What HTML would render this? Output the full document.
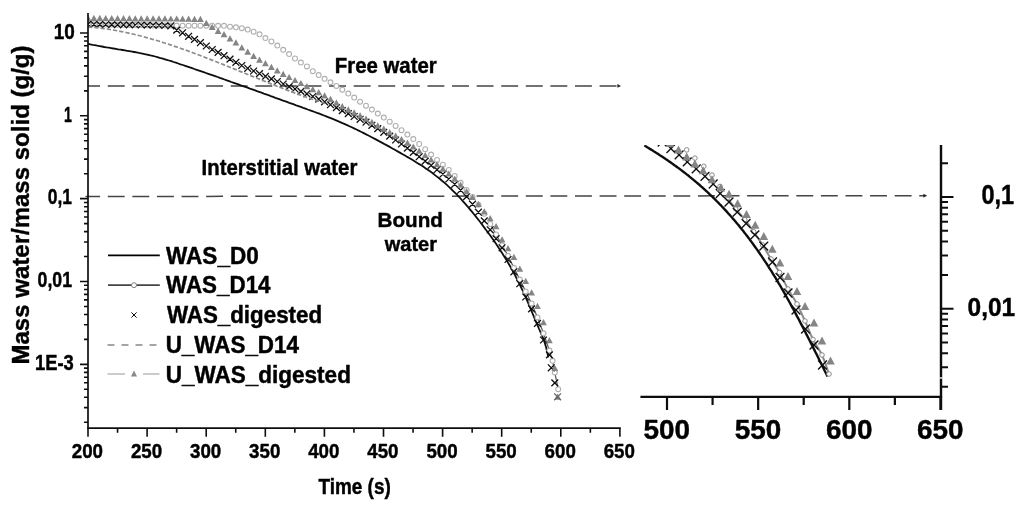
<!DOCTYPE html>
<html><head><meta charset="utf-8"><title>Drying curves</title>
<style>
html,body{margin:0;padding:0;background:#fff;}
body{width:1024px;height:507px;overflow:hidden;font-family:"Liberation Sans",sans-serif;}
svg{display:block;}
</style></head><body>
<svg width="1024" height="507" viewBox="0 0 1024 507">
<rect width="1024" height="507" fill="#fff"/>
<defs><filter id="soft" x="0" y="0" width="1024" height="507" filterUnits="userSpaceOnUse"><feGaussianBlur stdDeviation="0.45"/></filter></defs>
<g filter="url(#soft)" font-family="Liberation Sans, sans-serif" font-weight="bold" fill="#000">
<path d="M88,85.9 H618" stroke="#444" stroke-width="1.5" stroke-dasharray="16.9 7.69" stroke-dashoffset="4.8" fill="none"/>
<path d="M85.5,196.5 L924,195.65" stroke="#444" stroke-width="1.5" stroke-dasharray="16.9 7.69" stroke-dashoffset="2.3" fill="none"/>
<path d="M617.4,84 L621,85.9 L617.4,87.8Z" fill="#222"/>
<path d="M923.4,193.8 L927.2,195.65 L923.4,197.5Z" fill="#222"/>
<clipPath id="mc"><rect x="88" y="10" width="540" height="418"/></clipPath>
<g clip-path="url(#mc)">
<path d="M88.0,43.7 L90.3,44.3 L92.6,44.8 L94.9,45.2 L97.3,45.7 L99.6,46.1 L101.9,46.5 L104.2,47.0 L106.5,47.4 L108.8,47.7 L111.1,48.1 L113.4,48.5 L115.8,48.9 L118.1,49.3 L120.4,49.6 L122.7,50.0 L125.0,50.4 L127.3,50.8 L129.6,51.2 L132.0,51.6 L134.3,52.0 L136.6,52.4 L138.9,52.9 L141.2,53.3 L143.5,53.8 L145.8,54.3 L148.2,54.8 L150.5,55.4 L152.8,55.9 L155.1,56.5 L157.4,57.1 L159.7,57.8 L162.0,58.4 L164.3,59.1 L166.7,59.8 L169.0,60.5 L171.3,61.2 L173.6,62.0 L175.9,62.7 L178.2,63.5 L180.5,64.3 L182.9,65.0 L185.2,65.8 L187.5,66.6 L189.8,67.4 L192.1,68.2 L194.4,69.0 L196.7,69.8 L199.1,70.6 L201.4,71.4 L203.7,72.2 L206.0,73.0 L208.3,73.8 L210.6,74.6 L212.9,75.4 L215.2,76.2 L217.6,77.0 L219.9,77.9 L222.2,78.7 L224.5,79.5 L226.8,80.3 L229.1,81.1 L231.4,82.0 L233.8,82.8 L236.1,83.6 L238.4,84.4 L240.7,85.3 L243.0,86.1 L245.3,86.9 L247.6,87.7 L249.9,88.6 L252.3,89.4 L254.6,90.2 L256.9,91.1 L259.2,91.9 L261.5,92.7 L263.8,93.6 L266.1,94.4 L268.5,95.2 L270.8,96.1 L273.1,96.9 L275.4,97.8 L277.7,98.6 L280.0,99.4 L282.3,100.3 L284.7,101.1 L287.0,101.9 L289.3,102.8 L291.6,103.6 L293.9,104.4 L296.2,105.3 L298.5,106.1 L300.8,106.9 L303.2,107.8 L305.5,108.6 L307.8,109.5 L310.1,110.3 L312.4,111.1 L314.7,112.0 L317.0,112.9 L319.4,113.7 L321.7,114.6 L324.0,115.5 L326.3,116.4 L328.6,117.3 L330.9,118.2 L333.2,119.1 L335.6,120.1 L337.9,121.1 L340.2,122.1 L342.5,123.1 L344.8,124.1 L347.1,125.1 L349.4,126.2 L351.7,127.3 L354.1,128.4 L356.4,129.5 L358.7,130.6 L361.0,131.8 L363.3,132.9 L365.6,134.1 L367.9,135.3 L370.3,136.5 L372.6,137.7 L374.9,138.9 L377.2,140.1 L379.5,141.4 L381.8,142.6 L384.1,143.9 L386.5,145.1 L388.8,146.4 L391.1,147.7 L393.4,149.0 L395.7,150.3 L398.0,151.6 L400.3,152.9 L402.6,154.2 L405.0,155.5 L407.3,156.9 L409.6,158.2 L411.9,159.6 L414.2,161.0 L416.5,162.4 L418.8,163.9 L421.2,165.3 L423.5,166.8 L425.8,168.4 L428.1,170.0 L430.4,171.6 L432.7,173.3 L435.0,175.1 L437.3,176.9 L439.7,178.7 L442.0,180.7 L444.3,182.6 L446.6,184.7 L448.9,186.8 L451.2,189.0 L453.5,191.3 L455.9,193.6 L458.2,196.1 L460.5,198.5 L462.8,201.1 L465.1,203.7 L467.4,206.3 L469.7,209.1 L472.1,211.9 L474.4,214.7 L476.7,217.6 L479.0,220.5 L481.3,223.5 L483.6,226.6 L485.9,229.7 L488.2,232.8 L490.6,236.0 L492.9,239.3 L495.2,242.6 L497.5,246.0 L499.8,249.5 L502.1,253.0 L504.4,256.7 L506.8,260.5 L509.1,264.5 L511.4,268.5 L513.7,272.7 L516.0,277.1 L518.3,281.7 L520.6,286.4 L523.0,291.3 L525.3,296.4 L527.6,301.7 L529.9,307.1 L532.2,312.6 L534.5,318.1 L536.8,323.6 L539.1,329.0 L541.5,334.3 L543.8,339.9 L546.1,347.2 L548.4,357.4" stroke="#111" stroke-width="1.8" fill="none"/>
<path d="M490.2,224.0 L496.1,234.5 L502.1,245.3 L508.0,255.8 L513.9,267.8 L519.8,279.6 L525.7,291.4 L531.6,303.4 L537.5,317.4 L543.5,333.3 L549.4,350.6 L552.6,360.8 L554.8,372.6 L558.2,389.2" stroke="#555" stroke-width="1.2" fill="none"/>
<circle cx="88.0" cy="24.2" r="2.45" fill="#fff" stroke="#b0b0b0" stroke-width="1.1"/>
<circle cx="93.9" cy="24.3" r="2.45" fill="#fff" stroke="#b0b0b0" stroke-width="1.1"/>
<circle cx="99.8" cy="24.4" r="2.45" fill="#fff" stroke="#b0b0b0" stroke-width="1.1"/>
<circle cx="105.7" cy="24.5" r="2.45" fill="#fff" stroke="#b0b0b0" stroke-width="1.1"/>
<circle cx="111.7" cy="24.6" r="2.45" fill="#fff" stroke="#b0b0b0" stroke-width="1.1"/>
<circle cx="117.6" cy="24.7" r="2.45" fill="#fff" stroke="#b0b0b0" stroke-width="1.1"/>
<circle cx="123.5" cy="24.8" r="2.45" fill="#fff" stroke="#b0b0b0" stroke-width="1.1"/>
<circle cx="129.4" cy="24.9" r="2.45" fill="#fff" stroke="#b0b0b0" stroke-width="1.1"/>
<circle cx="135.3" cy="25.0" r="2.45" fill="#fff" stroke="#b0b0b0" stroke-width="1.1"/>
<circle cx="141.2" cy="25.1" r="2.45" fill="#fff" stroke="#b0b0b0" stroke-width="1.1"/>
<circle cx="147.2" cy="25.2" r="2.45" fill="#fff" stroke="#b0b0b0" stroke-width="1.1"/>
<circle cx="153.1" cy="25.4" r="2.45" fill="#fff" stroke="#b0b0b0" stroke-width="1.1"/>
<circle cx="159.0" cy="25.5" r="2.45" fill="#fff" stroke="#b0b0b0" stroke-width="1.1"/>
<circle cx="164.9" cy="25.6" r="2.45" fill="#fff" stroke="#b0b0b0" stroke-width="1.1"/>
<circle cx="170.8" cy="25.6" r="2.45" fill="#fff" stroke="#b0b0b0" stroke-width="1.1"/>
<circle cx="176.7" cy="25.6" r="2.45" fill="#fff" stroke="#b0b0b0" stroke-width="1.1"/>
<circle cx="182.6" cy="25.7" r="2.45" fill="#fff" stroke="#b0b0b0" stroke-width="1.1"/>
<circle cx="188.6" cy="25.7" r="2.45" fill="#fff" stroke="#b0b0b0" stroke-width="1.1"/>
<circle cx="194.5" cy="25.7" r="2.45" fill="#fff" stroke="#b0b0b0" stroke-width="1.1"/>
<circle cx="200.4" cy="25.7" r="2.45" fill="#fff" stroke="#b0b0b0" stroke-width="1.1"/>
<circle cx="206.3" cy="25.7" r="2.45" fill="#fff" stroke="#b0b0b0" stroke-width="1.1"/>
<circle cx="212.2" cy="25.7" r="2.45" fill="#fff" stroke="#b0b0b0" stroke-width="1.1"/>
<circle cx="218.1" cy="25.8" r="2.45" fill="#fff" stroke="#b0b0b0" stroke-width="1.1"/>
<circle cx="224.0" cy="25.8" r="2.45" fill="#fff" stroke="#b0b0b0" stroke-width="1.1"/>
<circle cx="230.0" cy="26.7" r="2.45" fill="#fff" stroke="#b0b0b0" stroke-width="1.1"/>
<circle cx="235.9" cy="27.3" r="2.45" fill="#fff" stroke="#b0b0b0" stroke-width="1.1"/>
<circle cx="241.8" cy="28.2" r="2.45" fill="#fff" stroke="#b0b0b0" stroke-width="1.1"/>
<circle cx="247.7" cy="29.6" r="2.45" fill="#fff" stroke="#b0b0b0" stroke-width="1.1"/>
<circle cx="253.6" cy="31.7" r="2.45" fill="#fff" stroke="#b0b0b0" stroke-width="1.1"/>
<circle cx="259.5" cy="34.3" r="2.45" fill="#fff" stroke="#b0b0b0" stroke-width="1.1"/>
<circle cx="265.4" cy="38.1" r="2.45" fill="#fff" stroke="#b0b0b0" stroke-width="1.1"/>
<circle cx="271.4" cy="41.4" r="2.45" fill="#fff" stroke="#b0b0b0" stroke-width="1.1"/>
<circle cx="277.3" cy="45.6" r="2.45" fill="#fff" stroke="#b0b0b0" stroke-width="1.1"/>
<circle cx="283.2" cy="49.8" r="2.45" fill="#fff" stroke="#b0b0b0" stroke-width="1.1"/>
<circle cx="289.1" cy="54.1" r="2.45" fill="#fff" stroke="#b0b0b0" stroke-width="1.1"/>
<circle cx="295.0" cy="58.5" r="2.45" fill="#fff" stroke="#b0b0b0" stroke-width="1.1"/>
<circle cx="300.9" cy="62.6" r="2.45" fill="#fff" stroke="#b0b0b0" stroke-width="1.1"/>
<circle cx="306.9" cy="66.4" r="2.45" fill="#fff" stroke="#b0b0b0" stroke-width="1.1"/>
<circle cx="312.8" cy="71.2" r="2.45" fill="#fff" stroke="#b0b0b0" stroke-width="1.1"/>
<circle cx="318.7" cy="75.1" r="2.45" fill="#fff" stroke="#b0b0b0" stroke-width="1.1"/>
<circle cx="324.6" cy="78.8" r="2.45" fill="#fff" stroke="#b0b0b0" stroke-width="1.1"/>
<circle cx="330.5" cy="82.3" r="2.45" fill="#fff" stroke="#b0b0b0" stroke-width="1.1"/>
<circle cx="336.4" cy="85.9" r="2.45" fill="#fff" stroke="#b0b0b0" stroke-width="1.1"/>
<circle cx="342.3" cy="89.7" r="2.45" fill="#fff" stroke="#b0b0b0" stroke-width="1.1"/>
<circle cx="348.3" cy="93.6" r="2.45" fill="#fff" stroke="#b0b0b0" stroke-width="1.1"/>
<circle cx="354.2" cy="97.6" r="2.45" fill="#fff" stroke="#b0b0b0" stroke-width="1.1"/>
<circle cx="360.1" cy="101.7" r="2.45" fill="#fff" stroke="#b0b0b0" stroke-width="1.1"/>
<circle cx="366.0" cy="105.7" r="2.45" fill="#fff" stroke="#b0b0b0" stroke-width="1.1"/>
<circle cx="371.9" cy="109.6" r="2.45" fill="#fff" stroke="#b0b0b0" stroke-width="1.1"/>
<circle cx="377.8" cy="113.6" r="2.45" fill="#fff" stroke="#b0b0b0" stroke-width="1.1"/>
<circle cx="383.8" cy="117.6" r="2.45" fill="#fff" stroke="#b0b0b0" stroke-width="1.1"/>
<circle cx="389.7" cy="121.7" r="2.45" fill="#fff" stroke="#b0b0b0" stroke-width="1.1"/>
<circle cx="395.6" cy="125.9" r="2.45" fill="#fff" stroke="#b0b0b0" stroke-width="1.1"/>
<circle cx="401.5" cy="130.2" r="2.45" fill="#fff" stroke="#b0b0b0" stroke-width="1.1"/>
<circle cx="407.4" cy="134.6" r="2.45" fill="#fff" stroke="#b0b0b0" stroke-width="1.1"/>
<circle cx="413.3" cy="139.1" r="2.45" fill="#fff" stroke="#b0b0b0" stroke-width="1.1"/>
<circle cx="419.2" cy="144.0" r="2.45" fill="#fff" stroke="#b0b0b0" stroke-width="1.1"/>
<circle cx="425.2" cy="149.2" r="2.45" fill="#fff" stroke="#b0b0b0" stroke-width="1.1"/>
<circle cx="431.1" cy="154.6" r="2.45" fill="#fff" stroke="#b0b0b0" stroke-width="1.1"/>
<circle cx="437.0" cy="159.9" r="2.45" fill="#fff" stroke="#b0b0b0" stroke-width="1.1"/>
<circle cx="442.9" cy="164.7" r="2.45" fill="#fff" stroke="#b0b0b0" stroke-width="1.1"/>
<circle cx="448.8" cy="169.9" r="2.45" fill="#fff" stroke="#b0b0b0" stroke-width="1.1"/>
<circle cx="454.7" cy="175.9" r="2.45" fill="#fff" stroke="#b0b0b0" stroke-width="1.1"/>
<circle cx="460.6" cy="182.8" r="2.45" fill="#fff" stroke="#b0b0b0" stroke-width="1.1"/>
<circle cx="466.6" cy="189.9" r="2.45" fill="#fff" stroke="#b0b0b0" stroke-width="1.1"/>
<circle cx="472.5" cy="197.0" r="2.45" fill="#fff" stroke="#b0b0b0" stroke-width="1.1"/>
<circle cx="478.4" cy="204.7" r="2.45" fill="#fff" stroke="#b0b0b0" stroke-width="1.1"/>
<circle cx="484.3" cy="213.7" r="2.45" fill="#fff" stroke="#b0b0b0" stroke-width="1.1"/>
<circle cx="490.2" cy="224.0" r="2.45" fill="#fff" stroke="#b0b0b0" stroke-width="1.1"/>
<circle cx="496.1" cy="234.5" r="2.45" fill="#fff" stroke="#b0b0b0" stroke-width="1.1"/>
<circle cx="502.1" cy="245.3" r="2.45" fill="#fff" stroke="#b0b0b0" stroke-width="1.1"/>
<circle cx="508.0" cy="255.8" r="2.45" fill="#fff" stroke="#b0b0b0" stroke-width="1.1"/>
<circle cx="513.9" cy="267.8" r="2.45" fill="#fff" stroke="#b0b0b0" stroke-width="1.1"/>
<circle cx="519.8" cy="279.6" r="2.45" fill="#fff" stroke="#b0b0b0" stroke-width="1.1"/>
<circle cx="525.7" cy="291.4" r="2.45" fill="#fff" stroke="#b0b0b0" stroke-width="1.1"/>
<circle cx="531.6" cy="303.4" r="2.45" fill="#fff" stroke="#b0b0b0" stroke-width="1.1"/>
<circle cx="537.5" cy="317.4" r="2.45" fill="#fff" stroke="#b0b0b0" stroke-width="1.1"/>
<circle cx="543.5" cy="333.3" r="2.45" fill="#fff" stroke="#b0b0b0" stroke-width="1.1"/>
<circle cx="549.4" cy="350.6" r="2.45" fill="#fff" stroke="#b0b0b0" stroke-width="1.1"/>
<circle cx="552.6" cy="360.8" r="2.45" fill="#fff" stroke="#b0b0b0" stroke-width="1.1"/>
<circle cx="554.8" cy="372.6" r="2.45" fill="#fff" stroke="#b0b0b0" stroke-width="1.1"/>
<circle cx="558.2" cy="389.2" r="2.45" fill="#fff" stroke="#b0b0b0" stroke-width="1.1"/>
<path d="M84.6,20.8L91.4,27.6M84.6,27.6L91.4,20.8 M90.5,20.9L97.3,27.7M90.5,27.7L97.3,20.9 M96.4,21.0L103.2,27.8M96.4,27.8L103.2,21.0 M102.3,21.1L109.1,27.9M102.3,27.9L109.1,21.1 M108.3,21.2L115.1,28.0M108.3,28.0L115.1,21.2 M114.2,21.3L121.0,28.1M114.2,28.1L121.0,21.3 M120.1,21.4L126.9,28.2M120.1,28.2L126.9,21.4 M126.0,21.5L132.8,28.3M126.0,28.3L132.8,21.5 M131.9,21.6L138.7,28.4M131.9,28.4L138.7,21.6 M137.8,21.6L144.6,28.4M137.8,28.4L144.6,21.6 M143.8,21.7L150.6,28.5M143.8,28.5L150.6,21.7 M149.7,21.8L156.5,28.6M149.7,28.6L156.5,21.8 M155.6,21.9L162.4,28.7M155.6,28.7L162.4,21.9 M161.5,22.1L168.3,28.9M161.5,28.9L168.3,22.1 M167.4,22.4L174.2,29.2M167.4,29.2L174.2,22.4 M173.3,26.7L180.1,33.5M173.3,33.5L180.1,26.7 M179.2,29.4L186.0,36.2M179.2,36.2L186.0,29.4 M185.2,32.9L192.0,39.7M185.2,39.7L192.0,32.9 M191.1,36.0L197.9,42.8M191.1,42.8L197.9,36.0 M197.0,39.3L203.8,46.1M197.0,46.1L203.8,39.3 M202.9,42.6L209.7,49.4M202.9,49.4L209.7,42.6 M208.8,46.1L215.6,52.9M208.8,52.9L215.6,46.1 M214.7,49.0L221.5,55.8M214.7,55.8L221.5,49.0 M220.6,52.3L227.4,59.1M220.6,59.1L227.4,52.3 M226.6,55.7L233.4,62.5M226.6,62.5L233.4,55.7 M232.5,58.9L239.3,65.7M232.5,65.7L239.3,58.9 M238.4,62.1L245.2,68.9M238.4,68.9L245.2,62.1 M244.3,64.9L251.1,71.7M244.3,71.7L251.1,64.9 M250.2,67.6L257.0,74.4M250.2,74.4L257.0,67.6 M256.1,70.2L262.9,77.0M256.1,77.0L262.9,70.2 M262.1,72.9L268.8,79.7M262.1,79.7L268.8,72.9 M268.0,75.5L274.8,82.3M268.0,82.3L274.8,75.5 M273.9,78.1L280.7,84.9M273.9,84.9L280.7,78.1 M279.8,80.6L286.6,87.4M279.8,87.4L286.6,80.6 M285.7,83.2L292.5,90.0M285.7,90.0L292.5,83.2 M291.6,85.6L298.4,92.4M291.6,92.4L298.4,85.6 M297.5,88.0L304.3,94.8M297.5,94.8L304.3,88.0 M303.5,90.5L310.3,97.3M303.5,97.3L310.3,90.5 M309.4,93.1L316.2,99.9M309.4,99.9L316.2,93.1 M315.3,95.7L322.1,102.5M315.3,102.5L322.1,95.7 M321.2,98.4L328.0,105.2M321.2,105.2L328.0,98.4 M327.1,101.3L333.9,108.1M327.1,108.1L333.9,101.3 M333.0,104.2L339.8,111.0M333.0,111.0L339.8,104.2 M338.9,107.2L345.7,114.0M338.9,114.0L345.7,107.2 M344.9,110.2L351.7,117.0M344.9,117.0L351.7,110.2 M350.8,113.1L357.6,119.9M350.8,119.9L357.6,113.1 M356.7,115.9L363.5,122.7M356.7,122.7L363.5,115.9 M362.6,118.8L369.4,125.6M362.6,125.6L369.4,118.8 M368.5,121.9L375.3,128.7M368.5,128.7L375.3,121.9 M374.4,125.2L381.2,132.0M374.4,132.0L381.2,125.2 M380.4,128.9L387.1,135.7M380.4,135.7L387.1,128.9 M386.3,132.7L393.1,139.5M386.3,139.5L393.1,132.7 M392.2,136.6L399.0,143.4M392.2,143.4L399.0,136.6 M398.1,140.6L404.9,147.4M398.1,147.4L404.9,140.6 M404.0,144.7L410.8,151.5M404.0,151.5L410.8,144.7 M409.9,149.0L416.7,155.8M409.9,155.8L416.7,149.0 M415.8,153.3L422.6,160.1M415.8,160.1L422.6,153.3 M421.8,157.7L428.6,164.5M421.8,164.5L428.6,157.7 M427.7,162.0L434.5,168.8M427.7,168.8L434.5,162.0 M433.6,166.3L440.4,173.1M433.6,173.1L440.4,166.3 M439.5,170.8L446.3,177.6M439.5,177.6L446.3,170.8 M445.4,175.6L452.2,182.4M445.4,182.4L452.2,175.6 M451.3,180.9L458.1,187.7M451.3,187.7L458.1,180.9 M457.2,186.8L464.0,193.6M457.2,193.6L464.0,186.8 M463.2,193.2L470.0,200.0M463.2,200.0L470.0,193.2 M469.1,200.7L475.9,207.5M469.1,207.5L475.9,200.7 M475.0,208.8L481.8,215.6M475.0,215.6L481.8,208.8 M480.9,217.5L487.7,224.3M480.9,224.3L487.7,217.5 M486.8,226.4L493.6,233.2M486.8,233.2L493.6,226.4 M492.7,235.3L499.5,242.1M492.7,242.1L499.5,235.3 M498.7,244.4L505.4,251.2M498.7,251.2L505.4,244.4 M504.6,256.1L511.4,262.9M504.6,262.9L511.4,256.1 M510.5,268.4L517.3,275.2M510.5,275.2L517.3,268.4 M516.4,280.3L523.2,287.1M516.4,287.1L523.2,280.3 M522.3,293.6L529.1,300.4M522.3,300.4L529.1,293.6 M528.2,305.5L535.0,312.3M528.2,312.3L535.0,305.5 M534.1,320.0L540.9,326.8M534.1,326.8L540.9,320.0 M540.1,336.6L546.9,343.4M540.1,343.4L546.9,336.6 M546.0,351.5L552.8,358.3M546.0,358.3L552.8,351.5 M547.9,364.4L554.7,371.2M547.9,371.2L554.7,364.4 M551.4,379.5L558.2,386.3M551.4,386.3L558.2,379.5" stroke="#111" stroke-width="1.3" fill="none"/>
<path d="M88.0,26.9 L90.0,27.1 L92.0,27.3 L94.0,27.5 L96.0,27.7 L98.0,27.9 L99.9,28.1 L101.9,28.4 L103.9,28.6 L105.9,28.9 L107.9,29.2 L109.9,29.5 L111.9,29.8 L113.9,30.2 L115.9,30.5 L117.9,30.9 L119.9,31.3 L121.9,31.7 L123.8,32.1 L125.8,32.5 L127.8,32.9 L129.8,33.4 L131.8,33.8 L133.8,34.3 L135.8,34.8 L137.8,35.3 L139.8,35.8 L141.8,36.3 L143.8,36.8 L145.8,37.4 L147.7,37.9 L149.7,38.5 L151.7,39.1 L153.7,39.6 L155.7,40.2 L157.7,40.8 L159.7,41.4 L161.7,42.1 L163.7,42.7 L165.7,43.3 L167.7,44.0 L169.7,44.6 L171.6,45.3 L173.6,46.0 L175.6,46.6 L177.6,47.3 L179.6,48.0 L181.6,48.7 L183.6,49.4 L185.6,50.1 L187.6,50.8 L189.6,51.6 L191.6,52.3 L193.6,53.0 L195.5,53.8 L197.5,54.5 L199.5,55.3 L201.5,56.0 L203.5,56.8 L205.5,57.6 L207.5,58.3 L209.5,59.1 L211.5,59.9 L213.5,60.7 L215.5,61.5 L217.5,62.2 L219.4,63.0 L221.4,63.8 L223.4,64.6 L225.4,65.4 L227.4,66.2 L229.4,67.0 L231.4,67.8 L233.4,68.6 L235.4,69.4 L237.4,70.2 L239.4,71.1 L241.4,71.9 L243.3,72.7 L245.3,73.5 L247.3,74.3 L249.3,75.1 L251.3,75.9 L253.3,76.7 L255.3,77.5 L257.3,78.3 L259.3,79.1 L261.3,79.9 L263.3,80.7 L265.3,81.5 L267.2,82.3 L269.2,83.1 L271.2,83.9 L273.2,84.7 L275.2,85.5 L277.2,86.3 L279.2,87.0 L281.2,87.8 L283.2,88.6 L285.2,89.4 L287.2,90.1 L289.2,90.9 L291.1,91.6 L293.1,92.4 L295.1,93.1 L297.1,93.9 L299.1,94.6 L301.1,95.3 L303.1,96.0 L305.1,96.7 L307.1,97.4 L309.1,98.1 L311.1,98.8 L313.1,99.5 L315.0,100.2 L317.0,100.9 L319.0,101.5 L321.0,102.2 L323.0,102.8 L325.0,103.5" stroke="#8c8c8c" stroke-width="1.7" stroke-dasharray="4.3 2" fill="none"/>
<path d="M84.6,20.9 L91.4,20.9 L88.0,14.7Z M90.5,21.0 L97.3,21.0 L93.9,14.8Z M96.4,21.0 L103.2,21.0 L99.8,14.8Z M102.3,21.1 L109.1,21.1 L105.7,14.9Z M108.3,21.1 L115.1,21.1 L111.7,14.9Z M114.2,21.2 L121.0,21.2 L117.6,15.0Z M120.1,21.2 L126.9,21.2 L123.5,15.0Z M126.0,21.3 L132.8,21.3 L129.4,15.1Z M131.9,21.4 L138.7,21.4 L135.3,15.2Z M137.8,21.4 L144.6,21.4 L141.2,15.2Z M143.8,21.5 L150.6,21.5 L147.2,15.3Z M149.7,21.5 L156.5,21.5 L153.1,15.3Z M155.6,21.5 L162.4,21.5 L159.0,15.3Z M161.5,21.5 L168.3,21.5 L164.9,15.3Z M167.4,21.6 L174.2,21.6 L170.8,15.4Z M173.3,21.6 L180.1,21.6 L176.7,15.4Z M179.2,21.7 L186.0,21.7 L182.6,15.5Z M185.2,21.8 L192.0,21.8 L188.6,15.6Z M191.1,21.9 L197.9,21.9 L194.5,15.7Z M197.0,22.0 L203.8,22.0 L200.4,15.8Z M202.9,26.0 L209.7,26.0 L206.3,19.8Z M208.8,29.9 L215.6,29.9 L212.2,23.7Z M214.7,34.0 L221.5,34.0 L218.1,27.8Z M220.6,37.3 L227.4,37.3 L224.0,31.1Z M226.6,41.5 L233.4,41.5 L230.0,35.3Z M232.5,45.4 L239.3,45.4 L235.9,39.2Z M238.4,50.4 L245.2,50.4 L241.8,44.2Z M244.3,54.8 L251.1,54.8 L247.7,48.6Z M250.2,58.9 L257.0,58.9 L253.6,52.7Z M256.1,62.8 L262.9,62.8 L259.5,56.6Z M262.1,66.2 L268.8,66.2 L265.4,60.0Z M268.0,69.9 L274.8,69.9 L271.4,63.7Z M273.9,73.4 L280.7,73.4 L277.3,67.2Z M279.8,77.0 L286.6,77.0 L283.2,70.8Z M285.7,80.1 L292.5,80.1 L289.1,73.9Z M291.6,83.1 L298.4,83.1 L295.0,76.9Z M297.5,86.1 L304.3,86.1 L300.9,79.9Z M303.5,89.2 L310.3,89.2 L306.9,83.0Z M309.4,92.2 L316.2,92.2 L312.8,86.0Z M315.3,95.3 L322.1,95.3 L318.7,89.1Z M321.2,98.5 L328.0,98.5 L324.6,92.3Z M327.1,101.9 L333.9,101.9 L330.5,95.7Z M333.0,105.6 L339.8,105.6 L336.4,99.4Z M338.9,109.3 L345.7,109.3 L342.3,103.1Z M344.9,112.5 L351.7,112.5 L348.3,106.3Z M350.8,115.5 L357.6,115.5 L354.2,109.3Z M356.7,118.5 L363.5,118.5 L360.1,112.3Z M362.6,121.8 L369.4,121.8 L366.0,115.6Z M368.5,125.0 L375.3,125.0 L371.9,118.8Z M374.4,128.4 L381.2,128.4 L377.8,122.2Z M380.4,131.7 L387.1,131.7 L383.8,125.5Z M386.3,135.2 L393.1,135.2 L389.7,129.0Z M392.2,138.6 L399.0,138.6 L395.6,132.4Z M398.1,142.1 L404.9,142.1 L401.5,135.9Z M404.0,145.8 L410.8,145.8 L407.4,139.6Z M409.9,149.6 L416.7,149.6 L413.3,143.4Z M415.8,153.7 L422.6,153.7 L419.2,147.5Z M421.8,158.1 L428.6,158.1 L425.2,151.9Z M427.7,162.6 L434.5,162.6 L431.1,156.4Z M433.6,167.2 L440.4,167.2 L437.0,161.0Z M439.5,171.8 L446.3,171.8 L442.9,165.6Z M445.4,176.6 L452.2,176.6 L448.8,170.4Z M451.3,181.8 L458.1,181.8 L454.7,175.6Z M457.2,187.8 L464.0,187.8 L460.6,181.6Z M463.2,194.2 L470.0,194.2 L466.6,188.0Z M469.1,200.1 L475.9,200.1 L472.5,193.9Z M475.0,207.1 L481.8,207.1 L478.4,200.9Z M480.9,214.5 L487.7,214.5 L484.3,208.3Z M486.8,221.2 L493.6,221.2 L490.2,215.0Z M492.7,229.3 L499.5,229.3 L496.1,223.1Z M498.7,242.5 L505.4,242.5 L502.1,236.3Z M504.6,251.3 L511.4,251.3 L508.0,245.1Z M510.5,259.9 L517.3,259.9 L513.9,253.7Z M516.4,271.7 L523.2,271.7 L519.8,265.5Z M522.3,284.0 L529.1,284.0 L525.7,277.8Z M528.2,295.4 L535.0,295.4 L531.6,289.2Z M534.1,309.0 L540.9,309.0 L537.5,302.8Z M540.1,325.3 L546.9,325.3 L543.5,319.1Z M546.0,343.3 L552.8,343.3 L549.4,337.1Z M551.4,370.9 L558.2,370.9 L554.8,364.7Z M554.2,399.7 L561.0,399.7 L557.6,393.5Z" fill="#858585"/>
<path d="M554.2,393.4L561.0,400.2M554.2,400.2L561.0,393.4" stroke="#666" stroke-width="1.3" fill="none"/>
</g>
<path d="M88,13 V428.5" stroke="#111" stroke-width="1.7" fill="none"/>
<path d="M87.2,428.1 H620.8" stroke="#111" stroke-width="1.7" fill="none"/>
<path d="M80,32.95H88M80,115.80H88M84,90.86H88M84,76.27H88M84,65.92H88M84,57.89H88M84,51.33H88M84,45.78H88M84,40.98H88M84,36.74H88M80,198.65H88M84,173.71H88M84,159.12H88M84,148.77H88M84,140.74H88M84,134.18H88M84,128.63H88M84,123.83H88M84,119.59H88M80,281.50H88M84,256.56H88M84,241.97H88M84,231.62H88M84,223.59H88M84,217.03H88M84,211.48H88M84,206.68H88M84,202.44H88M80,364.35H88M84,339.41H88M84,324.82H88M84,314.47H88M84,306.44H88M84,299.88H88M84,294.33H88M84,289.53H88M84,285.29H88M84,422.26H88M84,407.67H88M84,397.32H88M84,389.29H88M84,382.73H88M84,377.18H88M84,372.38H88M84,368.14H88" stroke="#111" stroke-width="1.6" fill="none"/>
<path d="M88.00,428.3V436.8M117.55,428.3V432.8M147.10,428.3V436.8M176.65,428.3V432.8M206.20,428.3V436.8M235.75,428.3V432.8M265.30,428.3V436.8M294.85,428.3V432.8M324.40,428.3V436.8M353.95,428.3V432.8M383.50,428.3V436.8M413.05,428.3V432.8M442.60,428.3V436.8M472.15,428.3V432.8M501.70,428.3V436.8M531.25,428.3V432.8M560.80,428.3V436.8M590.35,428.3V432.8M619.90,428.3V436.8" stroke="#111" stroke-width="1.6" fill="none"/>
<text x="71.79" y="458.40" font-size="20.8" textLength="31.23" lengthAdjust="spacingAndGlyphs" stroke="#000" stroke-width="0.45" stroke-linejoin="round">200</text>
<text x="130.89" y="458.40" font-size="20.8" textLength="31.23" lengthAdjust="spacingAndGlyphs" stroke="#000" stroke-width="0.45" stroke-linejoin="round">250</text>
<text x="189.99" y="458.40" font-size="20.8" textLength="31.23" lengthAdjust="spacingAndGlyphs" stroke="#000" stroke-width="0.45" stroke-linejoin="round">300</text>
<text x="249.09" y="458.40" font-size="20.8" textLength="31.23" lengthAdjust="spacingAndGlyphs" stroke="#000" stroke-width="0.45" stroke-linejoin="round">350</text>
<text x="308.19" y="458.40" font-size="20.8" textLength="31.23" lengthAdjust="spacingAndGlyphs" stroke="#000" stroke-width="0.45" stroke-linejoin="round">400</text>
<text x="367.29" y="458.40" font-size="20.8" textLength="31.23" lengthAdjust="spacingAndGlyphs" stroke="#000" stroke-width="0.45" stroke-linejoin="round">450</text>
<text x="426.39" y="458.40" font-size="20.8" textLength="31.23" lengthAdjust="spacingAndGlyphs" stroke="#000" stroke-width="0.45" stroke-linejoin="round">500</text>
<text x="485.49" y="458.40" font-size="20.8" textLength="31.23" lengthAdjust="spacingAndGlyphs" stroke="#000" stroke-width="0.45" stroke-linejoin="round">550</text>
<text x="544.59" y="458.40" font-size="20.8" textLength="31.23" lengthAdjust="spacingAndGlyphs" stroke="#000" stroke-width="0.45" stroke-linejoin="round">600</text>
<text x="603.69" y="458.40" font-size="20.8" textLength="31.23" lengthAdjust="spacingAndGlyphs" stroke="#000" stroke-width="0.45" stroke-linejoin="round">650</text>
<text x="53.67" y="38.70" font-size="21.2" textLength="21.06" lengthAdjust="spacingAndGlyphs" stroke="#000" stroke-width="0.45" stroke-linejoin="round">10</text>
<text x="64.12" y="121.50" font-size="21.2" textLength="7.88" lengthAdjust="spacingAndGlyphs" stroke="#000" stroke-width="0.45" stroke-linejoin="round">1</text>
<text x="47.77" y="204.40" font-size="21.2" textLength="24.24" lengthAdjust="spacingAndGlyphs" stroke="#000" stroke-width="0.45" stroke-linejoin="round">0,1</text>
<text x="37.59" y="287.10" font-size="21.2" textLength="34.45" lengthAdjust="spacingAndGlyphs" stroke="#000" stroke-width="0.45" stroke-linejoin="round">0,01</text>
<text x="35.09" y="370.00" font-size="21.2" textLength="38.74" lengthAdjust="spacingAndGlyphs" stroke="#000" stroke-width="0.45" stroke-linejoin="round">1E-3</text>
<text x="318.48" y="493.60" font-size="21.2" textLength="72.29" lengthAdjust="spacingAndGlyphs" stroke="#000" stroke-width="0.45" stroke-linejoin="round">Time (s)</text>
<text x="334.80" y="72.90" font-size="21.5" textLength="101.91" lengthAdjust="spacingAndGlyphs" stroke="#000" stroke-width="0.45" stroke-linejoin="round">Free water</text>
<text x="201.61" y="174.80" font-size="21.5" textLength="155.70" lengthAdjust="spacingAndGlyphs" stroke="#000" stroke-width="0.45" stroke-linejoin="round">Interstitial water</text>
<text x="377.58" y="226.50" font-size="21.0" textLength="65.33" lengthAdjust="spacingAndGlyphs" stroke="#000" stroke-width="0.45" stroke-linejoin="round">Bound</text>
<text x="384.79" y="251.10" font-size="21.0" textLength="52.21" lengthAdjust="spacingAndGlyphs" stroke="#000" stroke-width="0.45" stroke-linejoin="round">water</text>
<text transform="translate(28.9,205) rotate(-90)" font-size="23.8" text-anchor="middle" textLength="319" lengthAdjust="spacingAndGlyphs" stroke="#000" stroke-width="0.4" stroke-linejoin="round">Mass water/mass solid (g/g)</text>
<path d="M108,255.4H159.8" stroke="#000" stroke-width="1.9"/>
<path d="M108,285.2H159.8" stroke="#444" stroke-width="1.8"/>
<circle cx="134" cy="285.2" r="2.5" fill="#fff" stroke="#777" stroke-width="0.9"/>
<path d="M131.4,312.4L136.6,317.6M131.4,317.6L136.6,312.4" stroke="#111" stroke-width="1" fill="none"/>
<path d="M107.5,345H159.5" stroke="#888" stroke-width="1.5" stroke-dasharray="7 7"/>
<path d="M107.5,374H125M143,374H159.5" stroke="#bbb" stroke-width="1.3"/>
<path d="M131.0,376.6 L137.0,376.6 L134.0,370.4Z" fill="#888"/>
<text x="166.09" y="263.70" font-size="23.0" textLength="92.62" lengthAdjust="spacingAndGlyphs" stroke="#000" stroke-width="0.45" stroke-linejoin="round">WAS_D0</text>
<text x="166.10" y="293.30" font-size="23.0" textLength="104.41" lengthAdjust="spacingAndGlyphs" stroke="#000" stroke-width="0.45" stroke-linejoin="round">WAS_D14</text>
<text x="166.90" y="323.00" font-size="23.0" textLength="155.20" lengthAdjust="spacingAndGlyphs" stroke="#000" stroke-width="0.45" stroke-linejoin="round">WAS_digested</text>
<text x="165.70" y="353.20" font-size="23.0" textLength="133.30" lengthAdjust="spacingAndGlyphs" stroke="#000" stroke-width="0.45" stroke-linejoin="round">U_WAS_D14</text>
<text x="165.69" y="382.70" font-size="23.0" textLength="185.22" lengthAdjust="spacingAndGlyphs" stroke="#000" stroke-width="0.45" stroke-linejoin="round">U_WAS_digested</text>
<clipPath id="ic"><rect x="640" y="145" width="300" height="252"/></clipPath>
<g clip-path="url(#ic)">
<path d="M644.4,145.5 L645.3,146.0 L646.2,146.6 L647.2,147.2 L648.1,147.7 L649.0,148.3 L649.9,148.9 L650.8,149.4 L651.8,150.0 L652.7,150.6 L653.6,151.2 L654.5,151.7 L655.4,152.3 L656.4,152.9 L657.3,153.5 L658.2,154.1 L659.1,154.7 L660.0,155.3 L661.0,155.9 L661.9,156.5 L662.8,157.1 L663.7,157.7 L664.6,158.3 L665.6,159.0 L666.5,159.6 L667.4,160.2 L668.3,160.8 L669.2,161.5 L670.2,162.1 L671.1,162.8 L672.0,163.4 L672.9,164.1 L673.8,164.7 L674.8,165.4 L675.7,166.0 L676.6,166.7 L677.5,167.4 L678.4,168.1 L679.4,168.7 L680.3,169.4 L681.2,170.1 L682.1,170.8 L683.0,171.5 L684.0,172.2 L684.9,172.9 L685.8,173.7 L686.7,174.4 L687.6,175.1 L688.6,175.8 L689.5,176.6 L690.4,177.3 L691.3,178.1 L692.2,178.8 L693.2,179.6 L694.1,180.3 L695.0,181.1 L695.9,181.9 L696.8,182.7 L697.8,183.5 L698.7,184.2 L699.6,185.0 L700.5,185.8 L701.4,186.7 L702.4,187.5 L703.3,188.3 L704.2,189.1 L705.1,190.0 L706.0,190.8 L707.0,191.7 L707.9,192.5 L708.8,193.4 L709.7,194.3 L710.6,195.1 L711.6,196.0 L712.5,196.9 L713.4,197.8 L714.3,198.7 L715.2,199.6 L716.2,200.5 L717.1,201.5 L718.0,202.4 L718.9,203.3 L719.8,204.3 L720.8,205.2 L721.7,206.2 L722.6,207.2 L723.5,208.1 L724.4,209.1 L725.4,210.1 L726.3,211.1 L727.2,212.1 L728.1,213.2 L729.0,214.2 L730.0,215.2 L730.9,216.3 L731.8,217.3 L732.7,218.4 L733.6,219.4 L734.6,220.5 L735.5,221.6 L736.4,222.7 L737.3,223.8 L738.3,224.9 L739.2,226.0 L740.1,227.2 L741.0,228.3 L741.9,229.4 L742.9,230.6 L743.8,231.8 L744.7,232.9 L745.6,234.1 L746.5,235.3 L747.5,236.5 L748.4,237.7 L749.3,238.9 L750.2,240.2 L751.1,241.4 L752.1,242.7 L753.0,243.9 L753.9,245.2 L754.8,246.5 L755.7,247.8 L756.7,249.1 L757.6,250.4 L758.5,251.7 L759.4,253.0 L760.3,254.4 L761.3,255.7 L762.2,257.1 L763.1,258.4 L764.0,259.8 L764.9,261.2 L765.9,262.6 L766.8,264.0 L767.7,265.4 L768.6,266.9 L769.5,268.3 L770.5,269.8 L771.4,271.2 L772.3,272.7 L773.2,274.2 L774.1,275.7 L775.1,277.2 L776.0,278.7 L776.9,280.2 L777.8,281.7 L778.7,283.3 L779.7,284.9 L780.6,286.4 L781.5,288.0 L782.4,289.6 L783.3,291.2 L784.3,292.8 L785.2,294.4 L786.1,296.1 L787.0,297.7 L787.9,299.4 L788.9,301.0 L789.8,302.7 L790.7,304.4 L791.6,306.1 L792.5,307.8 L793.5,309.5 L794.4,311.2 L795.3,312.9 L796.2,314.6 L797.1,316.4 L798.1,318.1 L799.0,319.8 L799.9,321.6 L800.8,323.4 L801.7,325.1 L802.7,326.9 L803.6,328.7 L804.5,330.5 L805.4,332.3 L806.3,334.1 L807.3,335.9 L808.2,337.7 L809.1,339.5 L810.0,341.3 L810.9,343.1 L811.9,344.9 L812.8,346.8 L813.7,348.6 L814.6,350.4 L815.5,352.3 L816.5,354.1 L817.4,356.0 L818.3,357.8 L819.2,359.7 L820.1,361.5 L821.1,363.4 L822.0,365.2 L822.9,367.1 L823.8,368.9 L824.7,370.8 L825.7,372.7 L826.6,374.5 L827.5,376.4" stroke="#111" stroke-width="2.4" fill="none"/>
<path d="M727.1,198.2 C728.5,200.0 732.8,205.3 735.7,208.9 C738.7,212.5 741.8,215.9 744.8,219.7 C747.8,223.5 750.8,227.5 753.7,231.7 C756.7,235.9 759.6,240.3 762.5,244.9 C765.4,249.5 768.2,254.4 771.0,259.0 C773.8,263.6 776.7,267.5 779.5,272.5 C782.3,277.5 785.1,283.8 788.0,289.0 C790.9,294.2 794.2,298.7 797.0,304.0 C799.8,309.3 802.3,315.1 805.0,321.0 C807.7,326.9 810.2,333.8 813.0,339.5 C815.8,345.2 819.3,349.2 822.0,355.0 C824.7,360.8 827.8,370.8 829.0,374.0" stroke="#8c8c8c" stroke-width="2" fill="none"/>
<circle cx="677.5" cy="142.0" r="2.3" fill="#fff" stroke="#888" stroke-width="1"/>
<circle cx="686.7" cy="149.9" r="2.3" fill="#fff" stroke="#888" stroke-width="1"/>
<circle cx="694.9" cy="158.1" r="2.3" fill="#fff" stroke="#888" stroke-width="1"/>
<circle cx="703.8" cy="166.3" r="2.3" fill="#fff" stroke="#888" stroke-width="1"/>
<circle cx="712.0" cy="175.1" r="2.3" fill="#fff" stroke="#888" stroke-width="1"/>
<circle cx="720.0" cy="186.5" r="2.3" fill="#fff" stroke="#888" stroke-width="1"/>
<circle cx="727.1" cy="198.2" r="2.3" fill="#fff" stroke="#888" stroke-width="1"/>
<circle cx="735.7" cy="208.9" r="2.3" fill="#fff" stroke="#888" stroke-width="1"/>
<circle cx="744.8" cy="219.7" r="2.3" fill="#fff" stroke="#888" stroke-width="1"/>
<circle cx="753.7" cy="231.7" r="2.3" fill="#fff" stroke="#888" stroke-width="1"/>
<circle cx="762.5" cy="244.9" r="2.3" fill="#fff" stroke="#888" stroke-width="1"/>
<circle cx="771.0" cy="259.0" r="2.3" fill="#fff" stroke="#888" stroke-width="1"/>
<circle cx="779.5" cy="272.5" r="2.3" fill="#fff" stroke="#888" stroke-width="1"/>
<circle cx="788.0" cy="289.0" r="2.3" fill="#fff" stroke="#888" stroke-width="1"/>
<circle cx="797.0" cy="304.0" r="2.3" fill="#fff" stroke="#888" stroke-width="1"/>
<circle cx="805.0" cy="321.0" r="2.3" fill="#fff" stroke="#888" stroke-width="1"/>
<circle cx="813.0" cy="339.5" r="2.3" fill="#fff" stroke="#888" stroke-width="1"/>
<circle cx="822.0" cy="355.0" r="2.3" fill="#fff" stroke="#888" stroke-width="1"/>
<circle cx="829.0" cy="374.0" r="2.3" fill="#fff" stroke="#888" stroke-width="1"/>
<path d="M649.1,131.6L657.9,140.4M649.1,140.4L657.9,131.6 M657.8,137.6L666.6,146.4M657.8,146.4L666.6,137.6 M666.5,144.2L675.3,153.0M666.5,153.0L675.3,144.2 M674.7,150.5L683.5,159.3M674.7,159.3L683.5,150.5 M682.9,157.5L691.7,166.3M682.9,166.3L691.7,157.5 M691.8,164.4L700.6,173.2M691.8,173.2L700.6,164.4 M700.6,172.0L709.4,180.8M700.6,180.8L709.4,172.0 M708.8,179.6L717.6,188.4M708.8,188.4L717.6,179.6 M715.8,189.1L724.6,197.9M715.8,197.9L724.6,189.1 M724.6,197.6L733.4,206.4M724.6,206.4L733.4,197.6 M732.8,207.7L741.6,216.5M732.8,216.5L741.6,207.7 M741.7,219.1L750.5,227.9M741.7,227.9L750.5,219.1 M750.5,230.4L759.3,239.2M750.5,239.2L759.3,230.4 M759.4,241.8L768.2,250.6M759.4,250.6L768.2,241.8 M768.1,257.6L776.9,266.4M768.1,266.4L776.9,257.6 M775.6,273.1L784.4,281.9M775.6,281.9L784.4,273.1 M783.6,288.6L792.4,297.4M783.6,297.4L792.4,288.6 M791.6,305.6L800.4,314.4M791.6,314.4L800.4,305.6 M801.1,324.6L809.9,333.4M801.1,333.4L809.9,324.6 M809.6,340.6L818.4,349.4M809.6,349.4L818.4,340.6 M818.1,360.6L826.9,369.4M818.1,369.4L826.9,360.6" stroke="#111" stroke-width="1.35" fill="none"/>
<path d="M665.7,147.0 L674.3,147.0 L670.0,139.0Z M674.2,153.5 L682.8,153.5 L678.5,145.5Z M682.4,160.5 L691.0,160.5 L686.7,152.5Z M690.6,167.4 L699.2,167.4 L694.9,159.4Z M698.8,174.3 L707.4,174.3 L703.1,166.3Z M707.7,183.2 L716.3,183.2 L712.0,175.2Z M716.5,191.4 L725.1,191.4 L720.8,183.4Z M724.7,197.8 L733.3,197.8 L729.0,189.8Z M733.3,207.3 L741.9,207.3 L737.6,199.3Z M742.2,218.0 L750.8,218.0 L746.5,210.0Z M750.9,228.7 L759.5,228.7 L755.2,220.7Z M759.5,240.1 L768.1,240.1 L763.8,232.1Z M768.0,252.7 L776.6,252.7 L772.3,244.7Z M775.7,266.5 L784.3,266.5 L780.0,258.5Z M783.7,280.0 L792.3,280.0 L788.0,272.0Z M792.7,295.0 L801.3,295.0 L797.0,287.0Z M800.7,310.0 L809.3,310.0 L805.0,302.0Z M809.7,326.5 L818.3,326.5 L814.0,318.5Z M817.7,344.5 L826.3,344.5 L822.0,336.5Z M826.2,364.5 L834.8,364.5 L830.5,356.5Z" fill="#858585"/>
</g>
<path d="M640.4,396.9 H942.1" stroke="#111" stroke-width="2.4" fill="none"/>
<path d="M941,145 V410" stroke="#111" stroke-width="2.4" fill="none"/>
<path d="M667.00,396.9V409.9M712.58,396.9V404.9M758.15,396.9V409.9M803.73,396.9V404.9M849.30,396.9V409.9M894.88,396.9V404.9M940.45,396.9V409.9" stroke="#111" stroke-width="2.2" fill="none"/>
<path d="M941,197.00h12.5M941,163.36h7M941,308.75h12.5M941,275.11h7M941,255.43h7M941,241.47h7M941,230.64h7M941,221.79h7M941,214.31h7M941,207.83h7M941,202.11h7M941,386.86h7M941,367.18h7M941,353.22h7M941,342.39h7M941,333.54h7M941,326.06h7M941,319.58h7M941,313.86h7" stroke="#111" stroke-width="2" fill="none"/>
<rect x="939.5" y="377.3" width="3" height="1.3" fill="#fff"/>
<text x="643.60" y="439.00" font-size="28.5" textLength="46.50" lengthAdjust="spacingAndGlyphs" stroke="#000" stroke-width="0.45" stroke-linejoin="round">500</text>
<text x="734.75" y="439.00" font-size="28.5" textLength="46.50" lengthAdjust="spacingAndGlyphs" stroke="#000" stroke-width="0.45" stroke-linejoin="round">550</text>
<text x="825.90" y="439.00" font-size="28.5" textLength="46.50" lengthAdjust="spacingAndGlyphs" stroke="#000" stroke-width="0.45" stroke-linejoin="round">600</text>
<text x="917.05" y="439.00" font-size="28.5" textLength="46.50" lengthAdjust="spacingAndGlyphs" stroke="#000" stroke-width="0.45" stroke-linejoin="round">650</text>
<text x="981.50" y="204.10" font-size="27.0" textLength="32.71" lengthAdjust="spacingAndGlyphs" stroke="#000" stroke-width="0.45" stroke-linejoin="round">0,1</text>
<text x="967.60" y="316.00" font-size="26.5" textLength="47.60" lengthAdjust="spacingAndGlyphs" stroke="#000" stroke-width="0.45" stroke-linejoin="round">0,01</text>
</g></svg>
</body></html>
